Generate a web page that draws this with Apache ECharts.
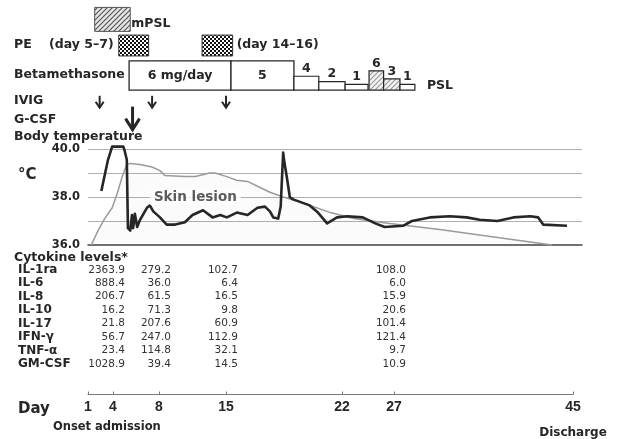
<!DOCTYPE html>
<html>
<head>
<meta charset="utf-8">
<script src="https://cdn.jsdelivr.net/npm/echarts@6/dist/echarts.min.js"></script>
<style>
  html, body { margin: 0; padding: 0; background: #fff; }
  #chart { width: 617px; height: 439px; }
</style>
</head>
<body>
<div id="chart"></div>
<script>
// ---- values (x in days, temperatures in °C) ----
const dayTicks = [1, 4, 8, 15, 22, 27, 45]

const tempDays = [2.6, 3.4, 3.9, 4.9, 5.0, 5.2, 5.3, 5.5, 5.65, 5.75, 5.9, 6.1, 6.35, 6.95, 7.2, 7.5,
  8.1, 8.8, 9.7, 10.7, 11.5, 12.6, 13.6, 14.4, 15.05, 15.65, 16.3, 16.9, 17.35, 17.65, 17.85, 18.15,
  18.3, 18.45, 18.5, 18.7, 18.85, 19.05, 20.05, 20.55, 21.1, 21.7, 22.5, 24.0, 25.2, 26.1, 27.9,
  28.8, 30.6, 32.6, 34.3, 35.6, 37.4, 39.0, 40.7, 41.5, 42.0, 44.4]
const tempValues = [38.25, 39.55, 40.1, 40.1, 39.95, 39.55, 36.7, 36.6, 37.25, 36.7, 37.3, 36.75, 37.05,
  37.55, 37.65, 37.4, 37.15, 36.85, 36.85, 36.95, 37.25, 37.45, 37.15, 37.25, 37.15, 37.35, 37.25,
  37.55, 37.6, 37.4, 37.15, 37.1, 37.6, 39.85, 39.55, 38.7, 38.0, 37.9, 37.65, 37.35, 36.9, 37.15,
  37.2, 37.15, 36.9, 36.75, 36.8, 37.0, 37.15, 37.2, 37.15, 37.05, 37.0, 37.15, 37.2, 37.15, 36.85, 36.8]

const lesionDays = [1.4, 2.2, 3.0, 3.9, 4.4, 4.8, 5.2, 5.5, 6.35, 7.4, 8.1, 8.6, 10.7, 11.8, 13.3,
  13.85, 15.05, 15.65, 16.3, 16.9, 17.65, 18.45, 19.45, 21.3, 23.1, 26.6, 31.6, 37.6, 42.9]
const lesionValues = [36.0, 36.6, 37.1, 37.55, 38.2, 38.85, 39.35, 39.4, 39.35, 39.25, 39.1, 38.9, 38.85,
  38.85, 39.0, 39.0, 38.85, 38.7, 38.65, 38.45, 38.2, 38.0, 37.8, 37.35, 37.1, 36.9, 36.65, 36.3, 36.0]
const lesionLabelAt = [11.8, 38.0]

const treatmentRows = ['mPSL', 'PE', 'Betamethasone', 'IVIG', 'G-CSF']
const mpslCourse = [1.8, 5.5]
const peCourses = [[4.5, 7.1], [12.5, 15.4]]
const betaSteps = [[5.4, 15.3, 6], [15.3, 19.1, 5]] // betamethasone, mg/day
const pslSteps = [[19.1, 20.6, 4], [20.6, 22.3, 2], [22.3, 24.5, 1], [24.6, 26.0, 6], [26.0, 27.6, 3], [27.6, 29.1, 1]]
const ivigDays = [2.4, 7.4, 15.0]
const gcsfDays = [5.7]

const cytokineNames = ['IL-1ra', 'IL-6', 'IL-8', 'IL-10', 'IL-17', 'IFN-γ', 'TNF-α', 'GM-CSF']
const cytokineDays = [4, 8, 15, 27]
const il1ra = [2363.9, 279.2, 102.7, 108.0]
const il6 = [888.4, 36.0, 6.4, 6.0]
const il8 = [206.7, 61.5, 16.5, 15.9]
const il10 = [16.2, 71.3, 9.8, 20.6]
const il17 = [21.8, 207.6, 60.9, 101.4]
const ifnG = [56.7, 247.0, 112.9, 121.4]
const tnfA = [23.4, 114.8, 32.1, 9.7]
const gmCsf = [1028.9, 39.4, 14.5, 10.9]
const cytokineValues = [il1ra, il6, il8, il10, il17, ifnG, tnfA, gmCsf]

// ---- layout ----
// the figure's time axis is not to scale: offset (px from day 1) of each labelled day
const tickUnits = [0, 25, 71, 138, 254, 306, 485]
const pslHatch = [0, 0, 0, 1, 1, 0]
const FONT = 'DejaVu Sans'
const INK = '#262626'

function dayToUnit(d) {
  let i = 0
  while (i < dayTicks.length - 2 && d > dayTicks[i + 1]) i++
  const d0 = dayTicks[i], d1 = dayTicks[i + 1]
  const u0 = tickUnits[i], u1 = tickUnits[i + 1]
  return u0 + (d - d0) * (u1 - u0) / (d1 - d0)
}

function makePattern(kind) {
  const c = document.createElement('canvas')
  const ctx = c.getContext('2d')
  if (kind === 'checker') {
    c.width = c.height = 4
    ctx.fillStyle = '#fff'
    ctx.fillRect(0, 0, 4, 4)
    ctx.fillStyle = '#111'
    ctx.fillRect(0, 0, 2, 2)
    ctx.fillRect(2, 2, 2, 2)
  } else {
    c.width = c.height = 5
    ctx.fillStyle = kind === 'hatchLight' ? '#f4f4f4' : '#e6e6e6'
    ctx.fillRect(0, 0, 5, 5)
    ctx.strokeStyle = kind === 'hatchLight' ? '#999' : '#555'
    ctx.lineWidth = 1.2
    ctx.beginPath()
    ctx.moveTo(-1, 6); ctx.lineTo(6, -1)
    ctx.moveTo(-1, 1); ctx.lineTo(1, -1)
    ctx.moveTo(4, 6); ctx.lineTo(6, 4)
    ctx.stroke()
  }
  return { image: c, repeat: 'repeat' }
}
const hatchFill = makePattern('hatch')
const hatchLight = makePattern('hatchLight')
const checkerFill = makePattern('checker')

function txt(text, x, y, opts) {
  return {
    type: 'text',
    style: Object.assign({
      text, x, y, fill: INK, fontSize: 12.5, fontWeight: 'bold', fontFamily: FONT, verticalAlign: 'middle'
    }, opts || {})
  }
}

function renderSpan(kind) {
  return function (params, api) {
    const a = api.coord([api.value(0), api.value(2)])
    const b = api.coord([api.value(1), api.value(2)])
    const band = api.size([0, 1])[1]
    const kids = []
    if (kind === 'mpsl') {
      const h = band * 0.93
      kids.push({ type: 'rect', shape: { x: a[0], y: a[1] - h / 2 - 1, width: b[0] - a[0], height: h },
        style: { fill: hatchFill, stroke: '#555', lineWidth: 1 } })
      kids.push(txt('mPSL', b[0] + 1, a[1] + 3))
    } else if (kind === 'pe') {
      const h = band * 0.81
      kids.push({ type: 'rect', shape: { x: a[0], y: a[1] - h / 2 - 0.7, width: b[0] - a[0], height: h },
        style: { fill: checkerFill, stroke: '#333', lineWidth: 1 } })
      if (params.dataIndex === 1) kids.push(txt('(day 14–16)', b[0] + 4, a[1] - 1))
    } else {
      const base = a[1] + band * 0.7
      const dose = api.value(3)
      if (kind === 'beta') {
        const top = a[1] - band * 0.43
        kids.push({ type: 'rect', shape: { x: a[0], y: top, width: b[0] - a[0], height: base - top },
          style: { fill: '#fff', stroke: INK, lineWidth: 1.3 } })
        kids.push(txt(dose === 6 ? '6 mg/day' : String(dose), (a[0] + b[0]) / 2, (top + base) / 2, { align: 'center' }))
      } else {
        const h = 3 + 2.7 * dose
        kids.push({ type: 'rect', shape: { x: a[0], y: base - h, width: b[0] - a[0], height: h },
          style: { fill: pslHatch[params.dataIndex] ? hatchLight : '#fff', stroke: INK, lineWidth: 1.2 } })
        kids.push(txt(String(dose), (a[0] + b[0]) / 2, base - h - 1, { align: 'center', verticalAlign: 'bottom' }))
        if (params.dataIndex === pslSteps.length - 1) kids.push(txt('PSL', b[0] + 12, base - 4))
      }
    }
    return { type: 'group', children: kids }
  }
}

function renderArrow(big) {
  return function (params, api) {
    const c = api.coord([api.value(0), api.value(1)])
    const x = c[0], y = c[1]
    const s = big
      ? { y1: y - 17, y2: y + 6, w: 7, hy: y - 5, lw: 3 }
      : { y1: y - 2, y2: y + 10, w: 4, hy: y + 4, lw: 2 }
    return {
      type: 'group',
      children: [
        { type: 'line', shape: { x1: x, y1: s.y1, x2: x, y2: s.y2 }, style: { stroke: INK, lineWidth: s.lw } },
        { type: 'polyline', shape: { points: [[x - s.w, s.hy], [x, s.y2], [x + s.w, s.hy]] },
          style: { stroke: INK, lineWidth: s.lw, fill: null } }
      ]
    }
  }
}

function renderCytokine(params, api) {
  const c = api.coord([api.value(0), api.value(1)])
  return txt(api.value(2).toFixed(1), c[0] + 12, c[1], { align: 'right', fontSize: 10.5, fontWeight: 'normal', fill: '#333' })
}

const cytokineData = []
cytokineValues.forEach((vals, row) => {
  vals.forEach((v, j) => cytokineData.push([dayToUnit(cytokineDays[j]), row, v]))
})

function title(text, x, y, size) {
  return { type: 'text', x, y, style: { text, fontSize: size, fontWeight: 'bold', fontFamily: FONT, fill: INK, verticalAlign: 'middle' } }
}

// row labels sit a little off the evenly spaced lanes in the figure
const rowLabelStyle = { fontSize: 12.5, fontWeight: 'bold', color: INK, fontFamily: FONT }
const rowRich = {
  pe: Object.assign({ padding: [0, 0, 2, 0] }, rowLabelStyle),
  dn: Object.assign({ padding: [5, 0, 0, 0] }, rowLabelStyle),
  up: Object.assign({ padding: [0, 0, 8, 0] }, rowLabelStyle)
}

const chart = echarts.init(document.getElementById('chart'), null, { renderer: 'canvas' })

chart.setOption({
  animation: false,
  backgroundColor: '#fff',
  textStyle: { fontFamily: FONT },
  grid: [
    { left: 88, right: 35, top: 7.5, height: 129 },
    { left: 88, right: 35, top: 149, height: 96 },
    { left: 88, right: 44, top: 263.2, height: 108.6 }
  ],
  xAxis: [
    { gridIndex: 0, type: 'value', min: 0, max: 494, show: false },
    {
      gridIndex: 1, type: 'value', min: 0, max: 494,
      axisLine: { show: true, lineStyle: { color: '#444', width: 1.5 } },
      axisTick: { show: false }, axisLabel: { show: false }, splitLine: { show: false }
    },
    {
      gridIndex: 2, type: 'value', min: 0, max: 485, offset: 24,
      axisLine: { show: true, lineStyle: { color: '#777', width: 1 } },
      axisTick: { show: true, customValues: tickUnits, inside: true, length: 3, lineStyle: { color: '#777' } },
      splitLine: { show: false },
      axisLabel: {
        customValues: tickUnits,
        margin: 4,
        formatter: (v) => {
          const d = dayTicks[tickUnits.indexOf(v)]
          return d === 45 ? '{d|45}\n{s|Discharge}' : '{d|' + d + '}'
        },
        rich: {
          d: { fontFamily: 'Liberation Sans', fontWeight: 'bold', fontSize: 14, color: INK, lineHeight: 18 },
          s: { fontFamily: FONT, fontWeight: 'bold', fontSize: 12, color: INK, lineHeight: 33 }
        }
      }
    }
  ],
  yAxis: [
    {
      gridIndex: 0, type: 'category', data: treatmentRows, inverse: true,
      axisLine: { show: false }, axisTick: { show: false }, splitLine: { show: false },
      axisLabel: {
        interval: 0, align: 'left', margin: 74,
        formatter: (n) => {
          if (n === 'mPSL') return ''
          if (n === 'PE') return '{pe|PE    (day 5–7)}'
          if (n === 'G-CSF') return '{up|' + n + '}'
          return '{dn|' + n + '}'
        },
        rich: rowRich
      }
    },
    {
      gridIndex: 1, type: 'value', min: 36, max: 40, interval: 1,
      axisLine: { show: false }, axisTick: { show: false },
      axisLabel: {
        margin: 8, fontSize: 11.5, fontWeight: 'bold', color: INK, fontFamily: FONT,
        formatter: (v) => (v % 2 === 0 ? v.toFixed(1) : '')
      },
      splitLine: { show: true, showMinLine: false, lineStyle: { color: '#b0b0b0', width: 1 } }
    },
    {
      gridIndex: 2, type: 'category', data: cytokineNames, inverse: true,
      axisLine: { show: false }, axisTick: { show: false }, splitLine: { show: false },
      axisLabel: { interval: 0, align: 'left', margin: 70, fontSize: 12, fontWeight: 'bold', color: INK, fontFamily: FONT }
    }
  ],
  graphic: [
    title('Body temperature', 14, 137, 12.5),
    title('°C', 18, 175, 15),
    title('Cytokine levels*', 14, 258, 12.5),
    title('Day', 18, 409, 15),
    title('Onset admission', 53, 427, 11.5)
  ],
  series: [
    {
      type: 'custom', name: 'mPSL', xAxisIndex: 0, yAxisIndex: 0, encode: { x: [0, 1], y: 2 },
      renderItem: renderSpan('mpsl'),
      data: [[dayToUnit(mpslCourse[0]), dayToUnit(mpslCourse[1]), 0]]
    },
    {
      type: 'custom', name: 'PE', xAxisIndex: 0, yAxisIndex: 0, encode: { x: [0, 1], y: 2 },
      renderItem: renderSpan('pe'),
      data: peCourses.map((p) => [dayToUnit(p[0]), dayToUnit(p[1]), 1])
    },
    {
      type: 'custom', name: 'Betamethasone', xAxisIndex: 0, yAxisIndex: 0, encode: { x: [0, 1], y: 2 },
      renderItem: renderSpan('beta'),
      data: betaSteps.map((s) => [dayToUnit(s[0]), dayToUnit(s[1]), 2, s[2]])
    },
    {
      type: 'custom', name: 'PSL', xAxisIndex: 0, yAxisIndex: 0, encode: { x: [0, 1], y: 2 },
      renderItem: renderSpan('psl'),
      data: pslSteps.map((s) => [dayToUnit(s[0]), dayToUnit(s[1]), 2, s[2]])
    },
    {
      type: 'custom', name: 'IVIG', xAxisIndex: 0, yAxisIndex: 0,
      renderItem: renderArrow(false),
      data: ivigDays.map((d) => [dayToUnit(d), 3])
    },
    {
      type: 'custom', name: 'G-CSF', xAxisIndex: 0, yAxisIndex: 0,
      renderItem: renderArrow(true),
      data: gcsfDays.map((d) => [dayToUnit(d), 4])
    },
    {
      type: 'line', name: 'Skin lesion', xAxisIndex: 1, yAxisIndex: 1,
      data: lesionDays.map((d, i) => [dayToUnit(d), lesionValues[i]]),
      symbol: 'none', clip: false,
      lineStyle: { color: '#9a9a9a', width: 1.5 },
      areaStyle: { color: 'rgba(0,0,0,0.025)' }
    },
    {
      type: 'line', name: 'Body temperature', xAxisIndex: 1, yAxisIndex: 1,
      data: tempDays.map((d, i) => [dayToUnit(d), tempValues[i]]),
      symbol: 'none', clip: false, z: 3,
      lineStyle: { color: '#262626', width: 2.6, join: 'round' }
    },
    {
      type: 'scatter', name: 'lesion label', xAxisIndex: 1, yAxisIndex: 1, z: 4,
      symbolSize: 1, itemStyle: { color: 'rgba(0,0,0,0)' },
      data: [[dayToUnit(lesionLabelAt[0]), lesionLabelAt[1]]],
      label: {
        show: true, position: 'inside', formatter: 'Skin lesion',
        fontSize: 13.5, fontWeight: 'bold', fontFamily: FONT, color: '#333',
        backgroundColor: '#fff', padding: [1, 4]
      }
    },
    {
      type: 'custom', name: 'Cytokine levels', xAxisIndex: 2, yAxisIndex: 2,
      renderItem: renderCytokine,
      data: cytokineData
    }
  ]
})
</script>
</body>
</html>
